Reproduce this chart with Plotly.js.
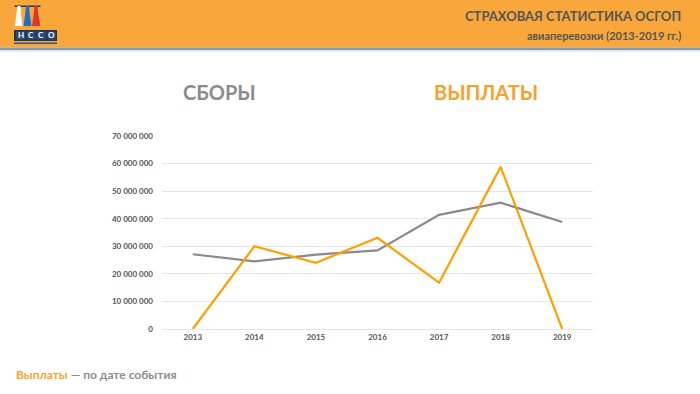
<!DOCTYPE html>
<html><head><meta charset="utf-8">
<script src="https://cdn.plot.ly/plotly-3.0.1.min.js"></script>
<style>html,body{margin:0;padding:0;background:#fff}#c{width:700px;height:394px}</style>
</head><body><div id="c"></div>
<script>
const years = ['2013','2014','2015','2016','2017','2018','2019'];
const sbory = [27100000, 24500000, 27000000, 28500000, 41400000, 45800000, 38800000];
const vyplaty = [0, 30000000, 24000000, 33100000, 16800000, 58800000, 0];
const yTicks = [0,10000000,20000000,30000000,40000000,50000000,60000000,70000000];
const yTickText = ['0','10 000 000','20 000 000','30 000 000','40 000 000','50 000 000','60 000 000','70 000 000'];

const W=700,H=394,L=162,R=107,T=136,B=65;
const pw=W-L-R, ph=H-T-B;
const px=x=>(x-L)/pw, py=y=>(H-B-y)/ph;
const FONT='Lato, "Open Sans", sans-serif';

function rect(x0,y0,x1,y1,color){return {type:'rect',xref:'paper',yref:'paper',x0:px(x0),x1:px(x1),y0:py(y1),y1:py(y0),fillcolor:color,line:{width:0},layer:'below'};}
function path(pts,color){let d='M'+pts.map(p=>px(p[0])+','+py(p[1])).join(' L')+' Z';return {type:'path',xref:'paper',yref:'paper',path:d,fillcolor:color,line:{width:0}};}

const shapes=[
  rect(0,0,700,47.5,'#F9A73A'),
  rect(0,47.5,700,50,'#8799AE'),
  rect(0,50,700,51.5,'#D9DEE5'),
  // logo flames
  path([[17.5,6],[20.5,6],[21,14],[22.5,26],[14.8,26],[16.5,14]],'#FFFFFF'),
  path([[26,6],[29,6],[29.7,14],[31.5,26],[23.5,26],[25.2,14]],'#1F6FC5'),
  path([[34.5,6],[37.5,6],[38.3,14],[40.5,26],[32,26],[33.7,14]],'#E0352B'),
  rect(14.5,5.5,40.5,7,'#1E3556'),
  // logo box
  rect(14,30,57,41,'#1E3556'),
  rect(16,31.5,25,39.5,'#2B4A73'),
  rect(26.5,31.5,35.5,39.5,'#2B4A73'),
  rect(37,31.5,46,39.5,'#2B4A73'),
  rect(47.5,31.5,56,39.5,'#2B4A73'),
  rect(14,42.5,57,44,'#3A5578')
];

const ann=[];
function txt(x,y,text,size,color,xanchor,extra){ann.push(Object.assign({xref:'paper',yref:'paper',x:px(x),y:py(y),text:text,showarrow:false,xanchor:xanchor||'left',yanchor:'middle',font:{family:FONT,size:size,color:color}},extra||{}));}
txt(683,16,'<b>СТРАХОВАЯ СТАТИСТИКА ОСГОП</b>',13,'#555555','right');
txt(683,35.5,'<b>авиаперевозки (2013-2019 гг.)</b>',11,'#555555','right');
['Н','С','С','О'].forEach((ch,i)=>txt([20.5,31,41.5,51.75][i],35.5,'<b>'+ch+'</b>',8,'#FFFFFF','center'));
txt(181,92,'<b>СБОРЫ</b>',20,'#8C8C8C','left');
txt(432,92,'<b>ВЫПЛАТЫ</b>',20,'#F9A12E','left');
txt(14,374,'<b><span style="color:#F9A12E">Выплаты</span> — по дате события</b>',12,'#8C8C8C','left');

const data=[
  {x:years,y:sbory,type:'scatter',mode:'lines',line:{color:'#8A8A8A',width:2.2},hoverinfo:'skip'},
  {x:years,y:vyplaty,type:'scatter',mode:'lines',line:{color:'#FFA000',width:2.2},hoverinfo:'skip'}
];
const layout={
  width:W,height:H,margin:{l:L,r:R,t:T,b:B},
  paper_bgcolor:'#FFFFFF',plot_bgcolor:'#FFFFFF',showlegend:false,
  font:{family:FONT},
  xaxis:{type:'category',range:[-0.5,6.5],showgrid:false,zeroline:false,showline:false,ticks:'',
    tickfont:{family:FONT,size:8,color:'#555555',weight:'bold'},ticklabelstandoff:2},
  yaxis:{range:[0,70000000],tickvals:yTicks,ticktext:yTickText,showgrid:true,gridcolor:'#E6E6E6',gridwidth:1,
    zeroline:true,zerolinecolor:'#E6E6E6',showline:false,ticks:'',
    tickfont:{family:FONT,size:8,color:'#555555',weight:'bold'},ticklabelstandoff:8},
  shapes:shapes,annotations:ann
};
Plotly.newPlot('c',data,layout,{staticPlot:true,displayModeBar:false});
</script></body></html>
